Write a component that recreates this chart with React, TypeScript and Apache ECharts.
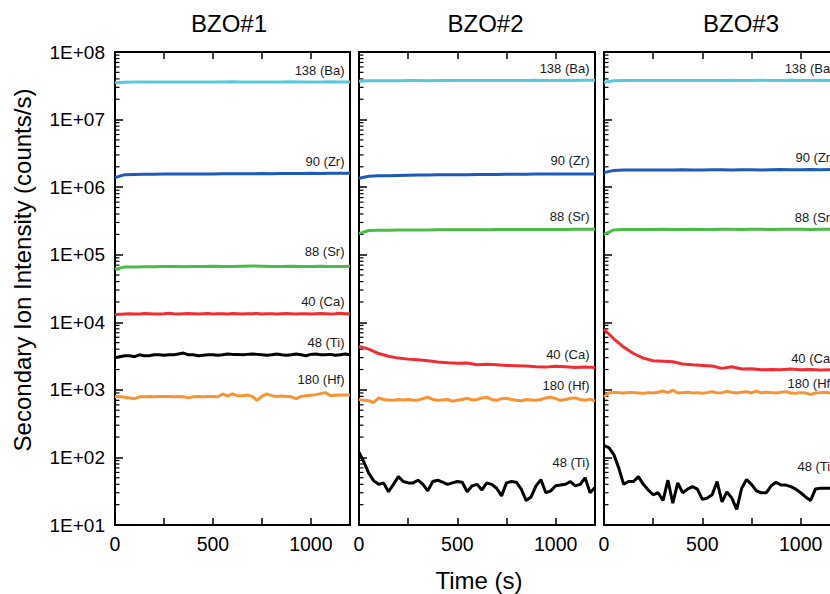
import React, { useEffect, useRef } from "react";
import * as echarts from "echarts";

const FONT = '"Liberation Sans", Arial, Helvetica, sans-serif';

// ---------- DATA ----------
const TIME_25 = [
  0, 25, 50, 75, 100, 125, 150, 175, 200, 225, 250, 275, 300, 325, 350, 375, 400, 425, 450, 475,
  500, 525, 550, 575, 600, 625, 650, 675, 700, 725, 750, 775, 800, 825, 850, 875, 900, 925, 950, 975,
  1000, 1025, 1050, 1075, 1100, 1125, 1150, 1175, 1200,
];
const TIME_50 = [
  0, 50, 100, 150, 200, 250, 300, 350, 400, 450, 500, 550, 600, 650, 700, 750, 800, 850, 900, 950,
  1000, 1050, 1100, 1150, 1200,
];

const PANEL_TITLES = ["BZO#1", "BZO#2", "BZO#3"];
const ION_NAMES = ["138 (Ba)", "90 (Zr)", "88 (Sr)", "40 (Ca)", "48 (Ti)", "180 (Hf)"];
const Y_AXIS_NAME = "Secondary Ion Intensity (counts/s)";
const X_AXIS_NAME = "Time (s)";

// BZO#1
const BA_1 = [3.5e7, 3.58e7, 3.6e7, 3.6e7, 3.59e7, 3.6e7, 3.61e7, 3.6e7, 3.6e7, 3.59e7, 3.6e7, 3.61e7, 3.62e7, 3.6e7, 3.61e7, 3.6e7, 3.6e7, 3.61e7, 3.62e7, 3.61e7, 3.6e7, 3.61e7, 3.62e7, 3.61e7, 3.6e7];
const ZR_1 = [1.38e6, 1.53e6, 1.54e6, 1.55e6, 1.55e6, 1.56e6, 1.56e6, 1.56e6, 1.57e6, 1.57e6, 1.57e6, 1.58e6, 1.58e6, 1.58e6, 1.58e6, 1.59e6, 1.58e6, 1.59e6, 1.59e6, 1.59e6, 1.6e6, 1.59e6, 1.6e6, 1.6e6, 1.6e6];
const SR_1 = [6.1e4, 6.6e4, 6.6e4, 6.65e4, 6.65e4, 6.7e4, 6.7e4, 6.65e4, 6.7e4, 6.7e4, 6.75e4, 6.7e4, 6.7e4, 6.75e4, 6.8e4, 6.75e4, 6.7e4, 6.7e4, 6.75e4, 6.7e4, 6.7e4, 6.75e4, 6.7e4, 6.7e4, 6.75e4];
const CA_1 = [
  13000, 13200, 13300, 13400, 13300, 13300, 13500, 13400, 13300, 13300,
  13400, 13600, 13400, 13300, 13400, 13500, 13400, 13300, 13400, 13500,
  13300, 13400, 13400, 13300, 13500, 13400, 13300, 13400, 13400, 13500,
  13300, 13400, 13400, 13300, 13400, 13500, 13400, 13300, 13400, 13400,
  13300, 13400, 13500, 13400, 13300, 13400, 13600, 13400, 13400,
];
const TI_1 = [
  3000, 3100, 3200, 3200, 3100, 3300, 3200, 3200, 3300, 3300,
  3250, 3300, 3300, 3400, 3500, 3300, 3300, 3200, 3250, 3300,
  3300, 3250, 3300, 3400, 3350, 3350, 3300, 3350, 3400, 3350,
  3300, 3250, 3300, 3400, 3300, 3250, 3300, 3400, 3300, 3200,
  3350, 3400, 3300, 3300, 3350, 3250, 3300, 3400, 3300,
];
const HF_1 = [
  800, 790, 780, 760, 740, 790, 790, 800, 790, 800,
  795, 800, 790, 800, 790, 760, 790, 800, 790, 795,
  800, 790, 870, 810, 870, 820, 820, 840, 800, 700,
  800, 870, 820, 800, 810, 800, 790, 740, 800, 820,
  830, 850, 880, 910, 820, 830, 840, 840, 840,
];

// BZO#2
const BA_2 = [3.7e7, 3.75e7, 3.76e7, 3.77e7, 3.77e7, 3.78e7, 3.78e7, 3.77e7, 3.78e7, 3.79e7, 3.78e7, 3.79e7, 3.8e7, 3.79e7, 3.8e7, 3.8e7, 3.79e7, 3.8e7, 3.81e7, 3.8e7, 3.8e7, 3.81e7, 3.8e7, 3.81e7, 3.82e7];
const ZR_2 = [1.35e6, 1.45e6, 1.47e6, 1.48e6, 1.49e6, 1.5e6, 1.51e6, 1.51e6, 1.52e6, 1.52e6, 1.53e6, 1.53e6, 1.54e6, 1.54e6, 1.54e6, 1.55e6, 1.55e6, 1.55e6, 1.56e6, 1.56e6, 1.56e6, 1.57e6, 1.57e6, 1.57e6, 1.57e6];
const SR_2 = [2.05e5, 2.28e5, 2.3e5, 2.31e5, 2.32e5, 2.32e5, 2.33e5, 2.33e5, 2.34e5, 2.34e5, 2.34e5, 2.35e5, 2.35e5, 2.35e5, 2.36e5, 2.36e5, 2.36e5, 2.36e5, 2.37e5, 2.37e5, 2.37e5, 2.37e5, 2.38e5, 2.38e5, 2.38e5];
const CA_2 = [4400, 4000, 3450, 3150, 2950, 2850, 2780, 2700, 2580, 2520, 2480, 2500, 2350, 2400, 2350, 2300, 2280, 2250, 2200, 2170, 2230, 2200, 2150, 2180, 2150];
const TI_2 = [
  120, 85, 58, 45, 40, 42, 31, 40, 52, 44,
  42, 42, 46, 40, 32, 44, 46, 43, 40, 42,
  44, 43, 31, 38, 40, 33, 42, 40, 35, 27,
  42, 44, 43, 34, 23, 26, 38, 47, 30, 32,
  38, 39, 40, 44, 38, 40, 50, 30, 36,
];
const HF_2 = [
  720, 700, 690, 650, 760, 720, 710, 700, 720, 710,
  720, 700, 710, 740, 780, 720, 700, 710, 720, 680,
  700, 720, 750, 710, 720, 760, 780, 720, 700, 740,
  750, 720, 700, 690, 720, 710, 700, 720, 760, 780,
  740, 700, 720, 750, 760, 720, 700, 730, 680,
];

// BZO#3
const BA_3 = [3.55e7, 3.75e7, 3.78e7, 3.78e7, 3.79e7, 3.78e7, 3.79e7, 3.8e7, 3.79e7, 3.8e7, 3.8e7, 3.79e7, 3.8e7, 3.81e7, 3.8e7, 3.8e7, 3.81e7, 3.8e7, 3.8e7, 3.81e7, 3.8e7, 3.8e7, 3.81e7, 3.8e7, 3.8e7];
const ZR_3 = [1.64e6, 1.77e6, 1.79e6, 1.79e6, 1.8e6, 1.8e6, 1.8e6, 1.8e6, 1.81e6, 1.8e6, 1.8e6, 1.81e6, 1.81e6, 1.8e6, 1.81e6, 1.81e6, 1.8e6, 1.81e6, 1.82e6, 1.81e6, 1.81e6, 1.82e6, 1.81e6, 1.82e6, 1.82e6];
const SR_3 = [2.0e5, 2.33e5, 2.36e5, 2.37e5, 2.37e5, 2.37e5, 2.38e5, 2.37e5, 2.37e5, 2.38e5, 2.37e5, 2.37e5, 2.38e5, 2.38e5, 2.37e5, 2.38e5, 2.38e5, 2.37e5, 2.38e5, 2.38e5, 2.38e5, 2.37e5, 2.38e5, 2.38e5, 2.38e5];
const CA_3 = [7900, 5700, 4300, 3450, 2950, 2700, 2650, 2600, 2420, 2350, 2300, 2250, 2080, 2200, 2030, 2050, 1980, 2000, 1990, 2030, 1980, 2000, 1960, 1980, 1970];
const TI_3 = [
  150, 140, 110, 70, 40, 44, 44, 52, 40, 33,
  28, 30, 23, 46, 21, 42, 30, 34, 37, 34,
  24, 25, 28, 44, 22, 31, 25, 17, 35, 47,
  40, 32, 30, 30, 38, 43, 39, 39, 37, 34,
  30, 26, 23, 34, 35, 35, 35, 36, 35,
];
const HF_3 = [
  780, 900, 920, 910, 900, 910, 910, 900, 890, 910,
  900, 920, 960, 910, 990, 900, 910, 920, 900, 910,
  890, 910, 940, 900, 910, 950, 920, 900, 920, 940,
  900, 960, 900, 920, 910, 900, 920, 940, 900, 890,
  910, 900, 850, 900, 910, 920, 900, 880, 900,
];

// ---------- STYLE / LAYOUT ----------
const ION_COLORS = ["#5bc8da", "#1e5bb8", "#4cbb48", "#ee2d34", "#000000", "#f79436"];
const CHART_W = 870; // drawn wider, shown through an 830px window
const GRID_LEFT = [115, 359, 604];
const GRID_WIDTH = [235, 236, 236];
const GRID_TOP = 52;
const GRID_HEIGHT = 473;
const TITLE_POS = [
  [229, 23],
  [485.5, 23],
  [741, 23],
];
// label vertical offsets (px) per panel, in ION_NAMES order
const LABEL_DY = [
  [-11, -12, -15, -12, -12, -15],
  [-12, -13, -13, -13, -25, -16],
  [-12, -12, -12, -11, -22, -9],
];

type PanelSeries = { times: number[]; values: number[] };
const PANELS: PanelSeries[][] = [
  [
    { times: TIME_50, values: BA_1 },
    { times: TIME_50, values: ZR_1 },
    { times: TIME_50, values: SR_1 },
    { times: TIME_25, values: CA_1 },
    { times: TIME_25, values: TI_1 },
    { times: TIME_25, values: HF_1 },
  ],
  [
    { times: TIME_50, values: BA_2 },
    { times: TIME_50, values: ZR_2 },
    { times: TIME_50, values: SR_2 },
    { times: TIME_50, values: CA_2 },
    { times: TIME_25, values: TI_2 },
    { times: TIME_25, values: HF_2 },
  ],
  [
    { times: TIME_50, values: BA_3 },
    { times: TIME_50, values: ZR_3 },
    { times: TIME_50, values: SR_3 },
    { times: TIME_50, values: CA_3 },
    { times: TIME_25, values: TI_3 },
    { times: TIME_25, values: HF_3 },
  ],
];

// minor log ticks 2..9 x 10^k
const MINOR_TICKS: number[] = [];
for (let k = 1; k < 8; k++) {
  for (let m = 2; m <= 9; m++) MINOR_TICKS.push(m * Math.pow(10, k));
}

function buildOption() {
  const grid: any[] = [];
  const xAxis: any[] = [];
  const yAxis: any[] = [];
  const series: any[] = [];

  PANELS.forEach((panel, i) => {
    grid.push({
      left: GRID_LEFT[i],
      top: GRID_TOP,
      width: GRID_WIDTH[i],
      height: GRID_HEIGHT,
      show: true,
      borderColor: "#000",
      borderWidth: 2,
      backgroundColor: "transparent",
    });
    const xBase = {
      type: "value",
      gridIndex: i,
      min: 0,
      max: 1200,
      interval: 250,
      splitLine: { show: false },
      axisLine: { show: true, onZero: false, lineStyle: { color: "#000", width: 2 } },
      axisTick: { show: true, inside: true, length: 7, lineStyle: { color: "#000", width: 1.5 } },
    };
    xAxis.push({
      ...xBase,
      position: "bottom",
      axisLabel: {
        show: true,
        formatter: (v: number) => (v % 500 === 0 ? String(v) : ""),
        fontSize: 19.5,
        fontFamily: FONT,
        color: "#000",
        margin: 9,
        showMaxLabel: false,
      },
    });
    xAxis.push({
      ...xBase,
      position: "top",
      axisLabel: { show: false },
    });
    yAxis.push({
      type: "log",
      logBase: 10,
      gridIndex: i,
      min: 10,
      max: 1e8,
      splitNumber: 7,
      splitLine: { show: false },
      axisLine: { show: true, onZero: false, lineStyle: { color: "#000", width: 2 } },
      axisTick: { show: true, inside: true, length: 8, lineStyle: { color: "#000", width: 1.5 } },
      axisLabel: {
        show: i === 0,
        formatter: (v: number) => {
          const e = Math.round(Math.log10(v));
          return "1E+" + (e < 10 ? "0" + e : String(e));
        },
        fontSize: 19,
        fontFamily: FONT,
        color: "#000",
        margin: 10,
      },
    });

    series.push({
      type: "custom",
      xAxisIndex: i * 2,
      yAxisIndex: i,
      silent: true,
      clip: false,
      data: MINOR_TICKS.map((v) => [0, v]),
      renderItem: (_p: any, api: any) => {
        const pt = api.coord([0, api.value(1)]);
        return {
          type: "line",
          shape: { x1: pt[0], y1: pt[1], x2: pt[0] + 4.5, y2: pt[1] },
          style: { stroke: "#000", lineWidth: 1.2 },
        };
      },
    });

    panel.forEach((s, j) => {
      const data = s.times.map((t, k) => [t, s.values[k]]);
      const last = s.values[s.values.length - 1];
      series.push({
        type: "line",
        name: ION_NAMES[j],
        xAxisIndex: i * 2,
        yAxisIndex: i,
        data,
        showSymbol: false,
        symbol: "none",
        clip: true,
        lineStyle: { color: ION_COLORS[j], width: 3 },
        itemStyle: { color: ION_COLORS[j] },
        z: 3,
        markPoint: {
          silent: true,
          symbol: "circle",
          symbolSize: 1,
          itemStyle: { color: "transparent" },
          label: {
            show: true,
            position: "left",
            distance: 5,
            offset: [0, LABEL_DY[i][j]],
            formatter: ION_NAMES[j],
            fontSize: 13,
            fontFamily: FONT,
            color: "#1a1a1a",
          },
          data: [{ coord: [1200, last] }],
        },
      });
    });
  });

  const textStyle = (text: string) => ({
    text,
    fill: "#000",
    font: `24px ${FONT}`,
    textAlign: "center",
    align: "center",
    textVerticalAlign: "middle",
    verticalAlign: "middle",
  });

  const graphic: any[] = PANEL_TITLES.map((t, i) => ({
    type: "text",
    x: TITLE_POS[i][0],
    y: TITLE_POS[i][1],
    style: textStyle(t),
  }));
  graphic.push({
    type: "text",
    x: 22.5,
    y: 270,
    rotation: Math.PI / 2,
    style: textStyle(Y_AXIS_NAME),
  });
  graphic.push({
    type: "text",
    x: 479,
    y: 580,
    style: textStyle(X_AXIS_NAME),
  });

  return {
    animation: false,
    backgroundColor: "#ffffff",
    grid,
    xAxis,
    yAxis,
    series,
    graphic,
  };
}

export default function App() {
  const ref = useRef<HTMLDivElement>(null);
  useEffect(() => {
    if (!ref.current) return;
    const chart = echarts.init(ref.current, undefined, { renderer: "svg" });
    chart.setOption(buildOption() as any);
    return () => chart.dispose();
  }, []);
  return (
    <div
      style={{
        position: "absolute",
        left: 0,
        top: 0,
        width: 830,
        height: 594,
        overflow: "hidden",
        background: "#fff",
      }}
    >
      <div ref={ref} style={{ width: CHART_W, height: 594 }} />
    </div>
  );
}
